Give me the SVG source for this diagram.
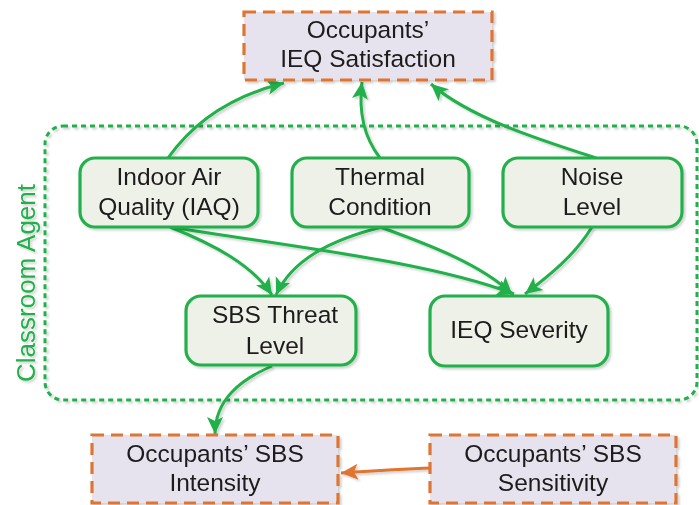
<svg xmlns="http://www.w3.org/2000/svg" width="699" height="505" viewBox="0 0 699 505">
<style>
.node rect{fill:#eef1e7;stroke:#21b04b;stroke-width:3.2}
.ext rect{fill:#e6e3ef;stroke:#e07430;stroke-width:3.2;stroke-dasharray:12 7}
text{font-family:"Liberation Sans",Arial,sans-serif;font-size:24.5px;fill:#1f1b1c;text-anchor:middle}
.conn path{fill:none;stroke:#21b04b;stroke-width:3}
.conn path.or{stroke:#e07430}
.agent{fill:none;stroke:#21b04b;stroke-width:3;stroke-dasharray:5 4}
.lbl{fill:#21b04b;font-size:26px}
</style>
<defs>
<filter id="sh" x="-10%" y="-10%" width="130%" height="130%">
<feDropShadow dx="2" dy="2" stdDeviation="1" flood-color="#000" flood-opacity="0.18"/>
</filter>
<marker id="ag" markerUnits="userSpaceOnUse" markerWidth="20" markerHeight="18" refX="17" refY="9" orient="auto">
<path d="M0,1 L17,9 L0,17 L4,9 z" fill="#21b04b"/>
</marker>
<marker id="ao" markerUnits="userSpaceOnUse" markerWidth="20" markerHeight="18" refX="17" refY="9" orient="auto">
<path d="M0,1 L17,9 L0,17 L4,9 z" fill="#e07430"/>
</marker>
</defs>
<rect width="699" height="505" fill="#fff"/>
<g id="classroom-agent" filter="url(#sh)">
<rect class="agent" x="45" y="126" width="652" height="274" rx="18"/>
<text class="lbl" transform="translate(35,283) rotate(-90)">Classroom Agent</text>
</g>
<g class="conn" id="connectors" filter="url(#sh)">
<path d="M168,158 C195,120 235,95 284,83" marker-end="url(#ag)"/>
<path d="M380,158 C366,140 358,115 362,82" marker-end="url(#ag)"/>
<path d="M596,158 C540,140 470,118 431,84" marker-end="url(#ag)"/>
<path d="M170,227 C215,245 252,265 272,295" marker-end="url(#ag)"/>
<path d="M170,227 C300,248 430,262 514,294" marker-end="url(#ag)"/>
<path d="M382,227 C330,240 292,260 276,295" marker-end="url(#ag)"/>
<path d="M380,227 C430,245 482,265 512,294" marker-end="url(#ag)"/>
<path d="M592,227 C575,255 550,275 525,294" marker-end="url(#ag)"/>
<path d="M272,366 C240,380 215,400 215,434" marker-end="url(#ag)"/>
<path class="or" d="M432,468 C400,469 370,471 341,473" marker-end="url(#ao)"/>
</g>
<g id="ieq-satisfaction" class="ext" filter="url(#sh)">
<rect x="244" y="12" width="248" height="68"/>
<text x="368" y="38">Occupants’</text>
<text x="368" y="67">IEQ Satisfaction</text>
</g>
<g id="iaq" class="node" filter="url(#sh)">
<rect x="80" y="158" width="178" height="69" rx="15"/>
<text x="169" y="185">Indoor Air</text>
<text x="169" y="215">Quality (IAQ)</text>
</g>
<g id="thermal" class="node" filter="url(#sh)">
<rect x="292" y="158" width="177" height="69" rx="15"/>
<text x="380" y="185">Thermal</text>
<text x="380" y="215">Condition</text>
</g>
<g id="noise" class="node" filter="url(#sh)">
<rect x="503" y="158" width="179" height="69" rx="15"/>
<text x="592" y="185">Noise</text>
<text x="592" y="215">Level</text>
</g>
<g id="sbs-threat" class="node" filter="url(#sh)">
<rect x="186" y="296" width="170" height="69" rx="15"/>
<text x="275" y="323">SBS Threat</text>
<text x="275" y="354">Level</text>
</g>
<g id="ieq-severity" class="node" filter="url(#sh)">
<rect x="430" y="296" width="178" height="70" rx="15"/>
<text x="519" y="338">IEQ Severity</text>
</g>
<g id="sbs-intensity" class="ext" filter="url(#sh)">
<rect x="92" y="435" width="246" height="68"/>
<text x="215" y="462">Occupants’ SBS</text>
<text x="215" y="491">Intensity</text>
</g>
<g id="sbs-sensitivity" class="ext" filter="url(#sh)">
<rect x="430" y="435" width="246" height="68"/>
<text x="553" y="462">Occupants’ SBS</text>
<text x="553" y="491">Sensitivity</text>
</g>
</svg>
